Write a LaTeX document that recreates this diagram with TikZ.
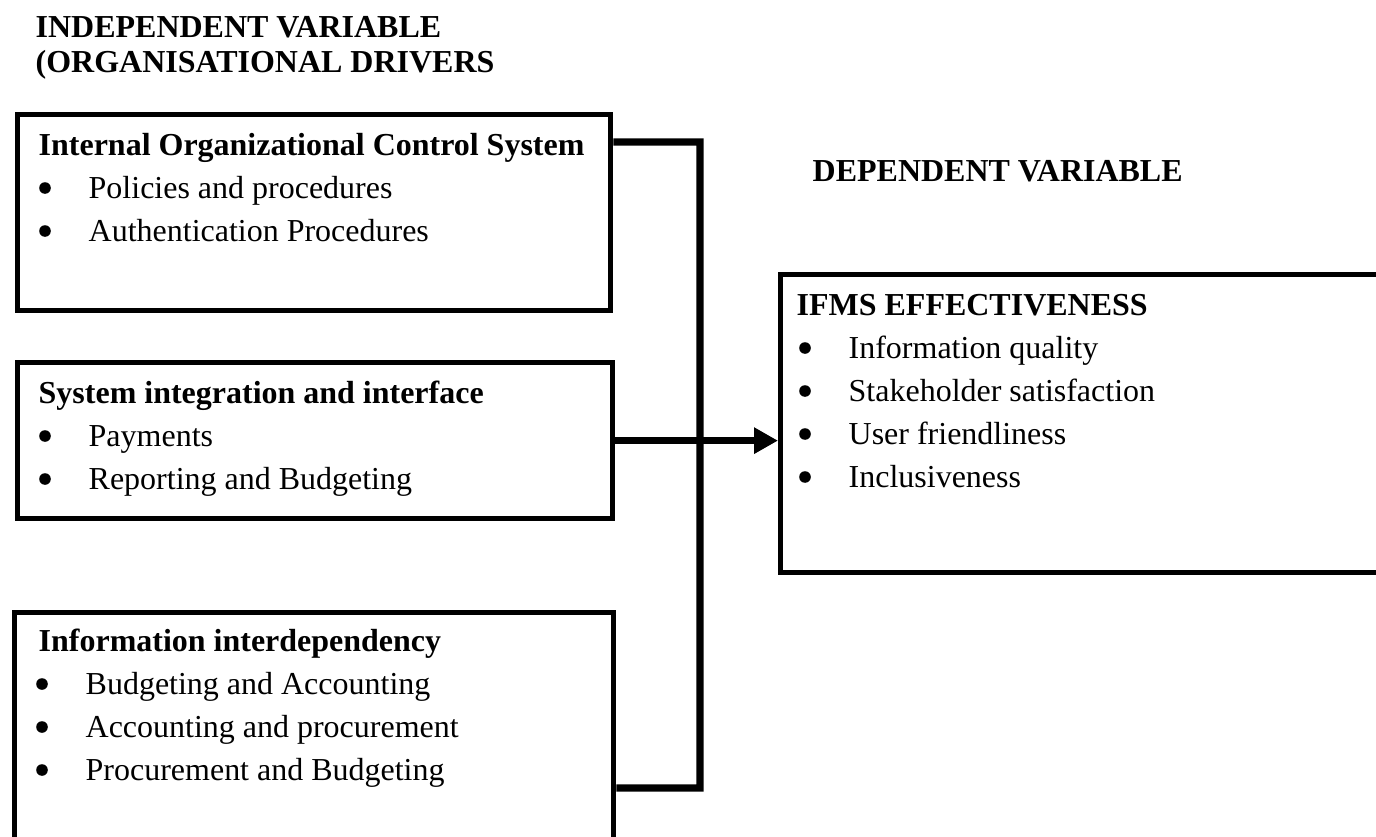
\documentclass[tikz,border=0pt]{standalone}
\usepackage{fontspec}
\setmainfont{Liberation Serif}
\usetikzlibrary{arrows.meta}

\tikzset{
  box/.style={draw, line width=1.5pt, rectangle, anchor=north west, inner sep=0pt},
  head/.style={font=\fontsize{9.1}{11}\selectfont\bfseries, anchor=base west, inner sep=0pt},
  item/.style={font=\fontsize{9.1}{11}\selectfont, anchor=base west, inner sep=0pt},
  link/.style={line width=2pt},
}
% bullet dot left of an item node
\newcommand{\bul}[1]{\fill ([xshift=-0.43cm, yshift=0.1cm]#1.base west) circle (0.058cm);}

\begin{document}
\begin{tikzpicture}
  \useasboundingbox (0,0) rectangle (13.76,8.36);

  % Titles
  \node[head] (tind1) at (0.35, 7.99) {INDEPENDENT VARIABLE};
  \node[head] (tind2) at (0.35, 7.64) {(ORGANISATIONAL DRIVERS};
  \node[head] (tdep) at (8.12, 6.55) {DEPENDENT VARIABLE};

  % Boxes
  \node[box, minimum width=5.93cm, minimum height=1.96cm] (ics) at (0.15, 7.24) {};
  \node[box, minimum width=5.95cm, minimum height=1.56cm] (sii) at (0.15, 4.76) {};
  \node[box, minimum width=5.99cm, minimum height=2.60cm] (iid) at (0.12, 2.26) {};
  \node[box, minimum width=6.50cm, minimum height=2.98cm] (eff) at (7.78, 5.64) {};

  % Internal control
  \node[head] (icsh) at (0.38, 6.81) {Internal Organizational Control System};
  \foreach \t [count=\i] in {Policies and procedures, Authentication Procedures}{
    \node[item] (ics\i) at (0.88, 6.81-0.43*\i) {\t};
    \bul{ics\i}
  }

  % Integration
  \node[head] (siih) at (0.38, 4.33) {System integration and interface};
  \foreach \t [count=\i] in {Payments, Reporting and Budgeting}{
    \node[item] (sii\i) at (0.88, 4.33-0.43*\i) {\t};
    \bul{sii\i}
  }

  % Interdependency
  \node[head] (iidh) at (0.38, 1.85) {Information interdependency};
  \foreach \t [count=\i] in {Budgeting and Accounting, Accounting and procurement, Procurement and Budgeting}{
    \node[item] (iid\i) at (0.85, 1.85-0.43*\i) {\t};
    \bul{iid\i}
  }

  % Effectiveness
  \node[head] (effh) at (7.96, 5.21) {IFMS EFFECTIVENESS};
  \foreach \t [count=\i] in {Information quality, Stakeholder satisfaction, User friendliness, Inclusiveness}{
    \node[item] (eff\i) at (8.48, 5.21-0.43*\i) {\t};
    \bul{eff\i}
  }

  % Connectors
  \coordinate (jt) at (7.00, 6.94);
  \coordinate (jb) at (7.00, 0.48);
  \draw[link] ([yshift=-0.30cm]ics.north east) -- (jt) -- (jb) -- (jb -| iid.east);
  \draw[link, -{Triangle[length=0.24cm, width=0.25cm]}] (sii.east) -- (sii.east -| eff.west);
\end{tikzpicture}
\end{document}
